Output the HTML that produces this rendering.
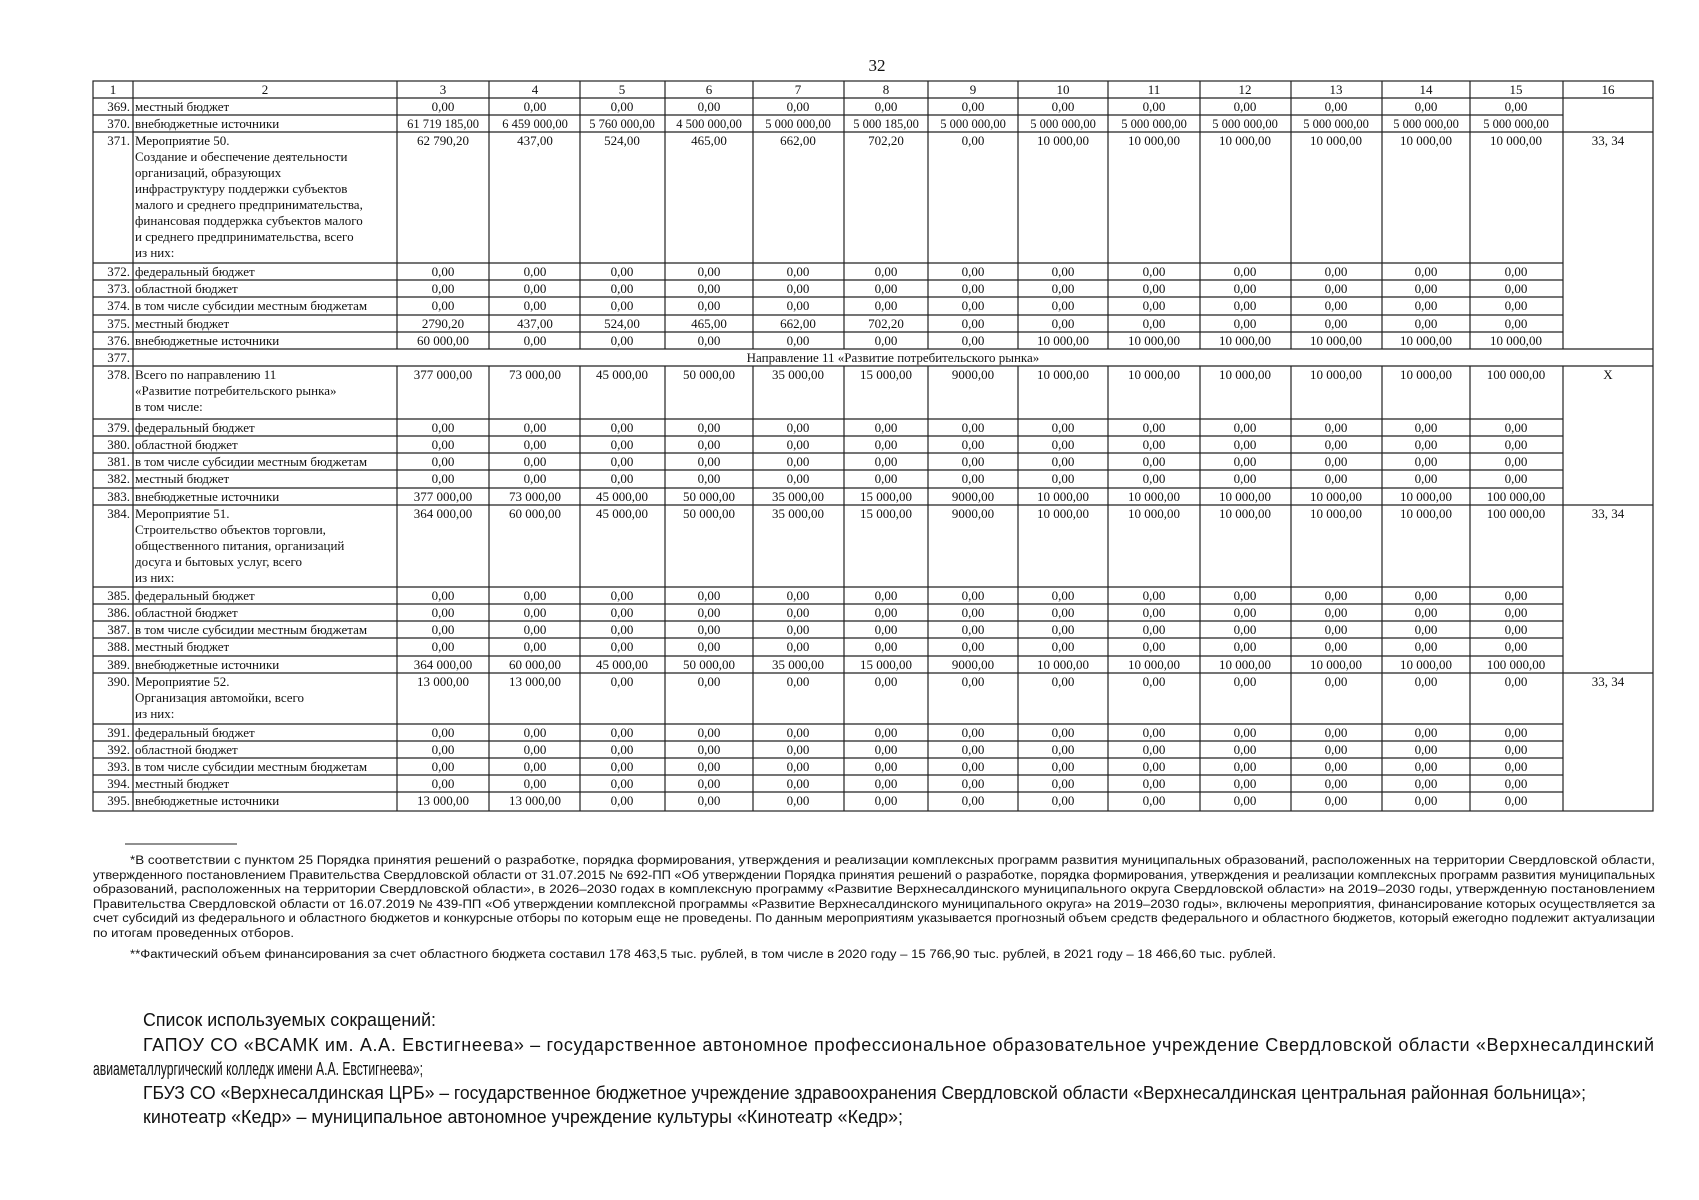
<!DOCTYPE html>
<html><head><meta charset="utf-8"><style>
html,body{margin:0;padding:0;background:#fff;}
svg{display:block}
.t{font-family:"Liberation Serif","DejaVu Serif",serif;font-size:13px;fill:#111}
.c{text-anchor:middle}
.r{text-anchor:end}
.f{font-family:"Liberation Sans","DejaVu Sans",sans-serif;font-size:11.5px;fill:#111}
.b{font-family:"Liberation Sans","DejaVu Sans",sans-serif;font-size:18px;fill:#111}
</style></head><body>
<svg width="1699" height="1200" viewBox="0 0 1699 1200" xmlns="http://www.w3.org/2000/svg">
<text x="877" y="71" class="t c" style="font-size:17px">32</text>
<g stroke="#222" stroke-width="1.2" fill="none">
<rect x="93" y="81" width="1560" height="730"/>
<line x1="133" y1="81" x2="133" y2="811"/>
<path d="M397 81V349M489 81V349M580 81V349M665 81V349M753 81V349M844 81V349M928 81V349M1018 81V349M1108 81V349M1200 81V349M1291 81V349M1382 81V349M1470 81V349M1563 81V349"/>
<path d="M397 366V811M489 366V811M580 366V811M665 366V811M753 366V811M844 366V811M928 366V811M1018 366V811M1108 366V811M1200 366V811M1291 366V811M1382 366V811M1470 366V811M1563 366V811"/>
<path d="M93 98H1653M93 132H1653M93 349H1653M93 366H1653M93 505H1653M93 673H1653"/>
<path d="M93 115H1563M93 263H1563M93 280H1563M93 297H1563M93 315H1563M93 332H1563M93 419H1563M93 436H1563M93 453H1563M93 470H1563M93 488H1563M93 587H1563M93 604H1563M93 621H1563M93 638H1563M93 656H1563M93 724H1563M93 741H1563M93 758H1563M93 775H1563M93 792H1563"/>
<line x1="125" y1="844" x2="237" y2="844" stroke-width="1"/>
</g>
<g class="t">
<text y="94" class="c"><tspan x="113">1</tspan><tspan x="265">2</tspan><tspan x="443">3</tspan><tspan x="535">4</tspan><tspan x="622">5</tspan><tspan x="709">6</tspan><tspan x="798">7</tspan><tspan x="886">8</tspan><tspan x="973">9</tspan><tspan x="1063">10</tspan><tspan x="1154">11</tspan><tspan x="1245">12</tspan><tspan x="1336">13</tspan><tspan x="1426">14</tspan><tspan x="1516">15</tspan><tspan x="1608">16</tspan></text>

<text class="r"><tspan x="130" y="111">369.</tspan><tspan x="130" y="128">370.</tspan><tspan x="130" y="145">371.</tspan><tspan x="130" y="276">372.</tspan><tspan x="130" y="293">373.</tspan><tspan x="130" y="310">374.</tspan><tspan x="130" y="328">375.</tspan><tspan x="130" y="345">376.</tspan><tspan x="130" y="362">377.</tspan><tspan x="130" y="379">378.</tspan><tspan x="130" y="432">379.</tspan><tspan x="130" y="449">380.</tspan><tspan x="130" y="466">381.</tspan><tspan x="130" y="483">382.</tspan><tspan x="130" y="501">383.</tspan><tspan x="130" y="518">384.</tspan><tspan x="130" y="600">385.</tspan><tspan x="130" y="617">386.</tspan><tspan x="130" y="634">387.</tspan><tspan x="130" y="651">388.</tspan><tspan x="130" y="669">389.</tspan><tspan x="130" y="686">390.</tspan><tspan x="130" y="737">391.</tspan><tspan x="130" y="754">392.</tspan><tspan x="130" y="771">393.</tspan><tspan x="130" y="788">394.</tspan><tspan x="130" y="805">395.</tspan></text>

<text><tspan x="135" y="111">местный бюджет</tspan><tspan x="135" y="128">внебюджетные источники</tspan>
<tspan x="135" y="145">Мероприятие 50.</tspan><tspan x="135" y="161">Создание и обеспечение деятельности</tspan><tspan x="135" y="177">организаций, образующих</tspan><tspan x="135" y="193">инфраструктуру поддержки субъектов</tspan><tspan x="135" y="209">малого и среднего предпринимательства,</tspan><tspan x="135" y="225">финансовая поддержка субъектов малого</tspan><tspan x="135" y="241">и среднего предпринимательства, всего</tspan><tspan x="135" y="257">из них:</tspan>
<tspan x="135" y="276">федеральный бюджет</tspan><tspan x="135" y="293">областной бюджет</tspan><tspan x="135" y="310">в том числе субсидии местным бюджетам</tspan><tspan x="135" y="328">местный бюджет</tspan><tspan x="135" y="345">внебюджетные источники</tspan>
<tspan x="135" y="379">Всего по направлению 11</tspan><tspan x="135" y="395">«Развитие потребительского рынка»</tspan><tspan x="135" y="411">в том числе:</tspan>
<tspan x="135" y="432">федеральный бюджет</tspan><tspan x="135" y="449">областной бюджет</tspan><tspan x="135" y="466">в том числе субсидии местным бюджетам</tspan><tspan x="135" y="483">местный бюджет</tspan><tspan x="135" y="501">внебюджетные источники</tspan>
<tspan x="135" y="518">Мероприятие 51.</tspan><tspan x="135" y="534">Строительство объектов торговли,</tspan><tspan x="135" y="550">общественного питания, организаций</tspan><tspan x="135" y="566">досуга и бытовых услуг, всего</tspan><tspan x="135" y="582">из них:</tspan>
<tspan x="135" y="600">федеральный бюджет</tspan><tspan x="135" y="617">областной бюджет</tspan><tspan x="135" y="634">в том числе субсидии местным бюджетам</tspan><tspan x="135" y="651">местный бюджет</tspan><tspan x="135" y="669">внебюджетные источники</tspan>
<tspan x="135" y="686">Мероприятие 52.</tspan><tspan x="135" y="702">Организация автомойки, всего</tspan><tspan x="135" y="718">из них:</tspan>
<tspan x="135" y="737">федеральный бюджет</tspan><tspan x="135" y="754">областной бюджет</tspan><tspan x="135" y="771">в том числе субсидии местным бюджетам</tspan><tspan x="135" y="788">местный бюджет</tspan><tspan x="135" y="805">внебюджетные источники</tspan></text>

<text x="893" y="362" class="c">Направление 11 «Развитие потребительского рынка»</text>

<g class="c">
<text y="111"><tspan x="443">0,00</tspan><tspan x="535">0,00</tspan><tspan x="622">0,00</tspan><tspan x="709">0,00</tspan><tspan x="798">0,00</tspan><tspan x="886">0,00</tspan><tspan x="973">0,00</tspan><tspan x="1063">0,00</tspan><tspan x="1154">0,00</tspan><tspan x="1245">0,00</tspan><tspan x="1336">0,00</tspan><tspan x="1426">0,00</tspan><tspan x="1516">0,00</tspan></text>
<text y="128" style="font-size:12.5px"><tspan x="443">61 719 185,00</tspan><tspan x="535">6 459 000,00</tspan><tspan x="622">5 760 000,00</tspan><tspan x="709">4 500 000,00</tspan><tspan x="798">5 000 000,00</tspan><tspan x="886">5 000 185,00</tspan><tspan x="973">5 000 000,00</tspan><tspan x="1063">5 000 000,00</tspan><tspan x="1154">5 000 000,00</tspan><tspan x="1245">5 000 000,00</tspan><tspan x="1336">5 000 000,00</tspan><tspan x="1426">5 000 000,00</tspan><tspan x="1516">5 000 000,00</tspan></text>
<text y="145"><tspan x="443">62 790,20</tspan><tspan x="535">437,00</tspan><tspan x="622">524,00</tspan><tspan x="709">465,00</tspan><tspan x="798">662,00</tspan><tspan x="886">702,20</tspan><tspan x="973">0,00</tspan><tspan x="1063">10 000,00</tspan><tspan x="1154">10 000,00</tspan><tspan x="1245">10 000,00</tspan><tspan x="1336">10 000,00</tspan><tspan x="1426">10 000,00</tspan><tspan x="1516">10 000,00</tspan><tspan x="1608">33, 34</tspan></text>
<text y="276"><tspan x="443">0,00</tspan><tspan x="535">0,00</tspan><tspan x="622">0,00</tspan><tspan x="709">0,00</tspan><tspan x="798">0,00</tspan><tspan x="886">0,00</tspan><tspan x="973">0,00</tspan><tspan x="1063">0,00</tspan><tspan x="1154">0,00</tspan><tspan x="1245">0,00</tspan><tspan x="1336">0,00</tspan><tspan x="1426">0,00</tspan><tspan x="1516">0,00</tspan></text>
<text y="293"><tspan x="443">0,00</tspan><tspan x="535">0,00</tspan><tspan x="622">0,00</tspan><tspan x="709">0,00</tspan><tspan x="798">0,00</tspan><tspan x="886">0,00</tspan><tspan x="973">0,00</tspan><tspan x="1063">0,00</tspan><tspan x="1154">0,00</tspan><tspan x="1245">0,00</tspan><tspan x="1336">0,00</tspan><tspan x="1426">0,00</tspan><tspan x="1516">0,00</tspan></text>
<text y="310"><tspan x="443">0,00</tspan><tspan x="535">0,00</tspan><tspan x="622">0,00</tspan><tspan x="709">0,00</tspan><tspan x="798">0,00</tspan><tspan x="886">0,00</tspan><tspan x="973">0,00</tspan><tspan x="1063">0,00</tspan><tspan x="1154">0,00</tspan><tspan x="1245">0,00</tspan><tspan x="1336">0,00</tspan><tspan x="1426">0,00</tspan><tspan x="1516">0,00</tspan></text>
<text y="328"><tspan x="443">2790,20</tspan><tspan x="535">437,00</tspan><tspan x="622">524,00</tspan><tspan x="709">465,00</tspan><tspan x="798">662,00</tspan><tspan x="886">702,20</tspan><tspan x="973">0,00</tspan><tspan x="1063">0,00</tspan><tspan x="1154">0,00</tspan><tspan x="1245">0,00</tspan><tspan x="1336">0,00</tspan><tspan x="1426">0,00</tspan><tspan x="1516">0,00</tspan></text>
<text y="345"><tspan x="443">60 000,00</tspan><tspan x="535">0,00</tspan><tspan x="622">0,00</tspan><tspan x="709">0,00</tspan><tspan x="798">0,00</tspan><tspan x="886">0,00</tspan><tspan x="973">0,00</tspan><tspan x="1063">10 000,00</tspan><tspan x="1154">10 000,00</tspan><tspan x="1245">10 000,00</tspan><tspan x="1336">10 000,00</tspan><tspan x="1426">10 000,00</tspan><tspan x="1516">10 000,00</tspan></text>

<text y="379"><tspan x="443">377 000,00</tspan><tspan x="535">73 000,00</tspan><tspan x="622">45 000,00</tspan><tspan x="709">50 000,00</tspan><tspan x="798">35 000,00</tspan><tspan x="886">15 000,00</tspan><tspan x="973">9000,00</tspan><tspan x="1063">10 000,00</tspan><tspan x="1154">10 000,00</tspan><tspan x="1245">10 000,00</tspan><tspan x="1336">10 000,00</tspan><tspan x="1426">10 000,00</tspan><tspan x="1516">100 000,00</tspan><tspan x="1608">X</tspan></text>
<text y="432"><tspan x="443">0,00</tspan><tspan x="535">0,00</tspan><tspan x="622">0,00</tspan><tspan x="709">0,00</tspan><tspan x="798">0,00</tspan><tspan x="886">0,00</tspan><tspan x="973">0,00</tspan><tspan x="1063">0,00</tspan><tspan x="1154">0,00</tspan><tspan x="1245">0,00</tspan><tspan x="1336">0,00</tspan><tspan x="1426">0,00</tspan><tspan x="1516">0,00</tspan></text>
<text y="449"><tspan x="443">0,00</tspan><tspan x="535">0,00</tspan><tspan x="622">0,00</tspan><tspan x="709">0,00</tspan><tspan x="798">0,00</tspan><tspan x="886">0,00</tspan><tspan x="973">0,00</tspan><tspan x="1063">0,00</tspan><tspan x="1154">0,00</tspan><tspan x="1245">0,00</tspan><tspan x="1336">0,00</tspan><tspan x="1426">0,00</tspan><tspan x="1516">0,00</tspan></text>
<text y="466"><tspan x="443">0,00</tspan><tspan x="535">0,00</tspan><tspan x="622">0,00</tspan><tspan x="709">0,00</tspan><tspan x="798">0,00</tspan><tspan x="886">0,00</tspan><tspan x="973">0,00</tspan><tspan x="1063">0,00</tspan><tspan x="1154">0,00</tspan><tspan x="1245">0,00</tspan><tspan x="1336">0,00</tspan><tspan x="1426">0,00</tspan><tspan x="1516">0,00</tspan></text>
<text y="483"><tspan x="443">0,00</tspan><tspan x="535">0,00</tspan><tspan x="622">0,00</tspan><tspan x="709">0,00</tspan><tspan x="798">0,00</tspan><tspan x="886">0,00</tspan><tspan x="973">0,00</tspan><tspan x="1063">0,00</tspan><tspan x="1154">0,00</tspan><tspan x="1245">0,00</tspan><tspan x="1336">0,00</tspan><tspan x="1426">0,00</tspan><tspan x="1516">0,00</tspan></text>
<text y="501"><tspan x="443">377 000,00</tspan><tspan x="535">73 000,00</tspan><tspan x="622">45 000,00</tspan><tspan x="709">50 000,00</tspan><tspan x="798">35 000,00</tspan><tspan x="886">15 000,00</tspan><tspan x="973">9000,00</tspan><tspan x="1063">10 000,00</tspan><tspan x="1154">10 000,00</tspan><tspan x="1245">10 000,00</tspan><tspan x="1336">10 000,00</tspan><tspan x="1426">10 000,00</tspan><tspan x="1516">100 000,00</tspan></text>

<text y="518"><tspan x="443">364 000,00</tspan><tspan x="535">60 000,00</tspan><tspan x="622">45 000,00</tspan><tspan x="709">50 000,00</tspan><tspan x="798">35 000,00</tspan><tspan x="886">15 000,00</tspan><tspan x="973">9000,00</tspan><tspan x="1063">10 000,00</tspan><tspan x="1154">10 000,00</tspan><tspan x="1245">10 000,00</tspan><tspan x="1336">10 000,00</tspan><tspan x="1426">10 000,00</tspan><tspan x="1516">100 000,00</tspan><tspan x="1608">33, 34</tspan></text>
<text y="600"><tspan x="443">0,00</tspan><tspan x="535">0,00</tspan><tspan x="622">0,00</tspan><tspan x="709">0,00</tspan><tspan x="798">0,00</tspan><tspan x="886">0,00</tspan><tspan x="973">0,00</tspan><tspan x="1063">0,00</tspan><tspan x="1154">0,00</tspan><tspan x="1245">0,00</tspan><tspan x="1336">0,00</tspan><tspan x="1426">0,00</tspan><tspan x="1516">0,00</tspan></text>
<text y="617"><tspan x="443">0,00</tspan><tspan x="535">0,00</tspan><tspan x="622">0,00</tspan><tspan x="709">0,00</tspan><tspan x="798">0,00</tspan><tspan x="886">0,00</tspan><tspan x="973">0,00</tspan><tspan x="1063">0,00</tspan><tspan x="1154">0,00</tspan><tspan x="1245">0,00</tspan><tspan x="1336">0,00</tspan><tspan x="1426">0,00</tspan><tspan x="1516">0,00</tspan></text>
<text y="634"><tspan x="443">0,00</tspan><tspan x="535">0,00</tspan><tspan x="622">0,00</tspan><tspan x="709">0,00</tspan><tspan x="798">0,00</tspan><tspan x="886">0,00</tspan><tspan x="973">0,00</tspan><tspan x="1063">0,00</tspan><tspan x="1154">0,00</tspan><tspan x="1245">0,00</tspan><tspan x="1336">0,00</tspan><tspan x="1426">0,00</tspan><tspan x="1516">0,00</tspan></text>
<text y="651"><tspan x="443">0,00</tspan><tspan x="535">0,00</tspan><tspan x="622">0,00</tspan><tspan x="709">0,00</tspan><tspan x="798">0,00</tspan><tspan x="886">0,00</tspan><tspan x="973">0,00</tspan><tspan x="1063">0,00</tspan><tspan x="1154">0,00</tspan><tspan x="1245">0,00</tspan><tspan x="1336">0,00</tspan><tspan x="1426">0,00</tspan><tspan x="1516">0,00</tspan></text>
<text y="669"><tspan x="443">364 000,00</tspan><tspan x="535">60 000,00</tspan><tspan x="622">45 000,00</tspan><tspan x="709">50 000,00</tspan><tspan x="798">35 000,00</tspan><tspan x="886">15 000,00</tspan><tspan x="973">9000,00</tspan><tspan x="1063">10 000,00</tspan><tspan x="1154">10 000,00</tspan><tspan x="1245">10 000,00</tspan><tspan x="1336">10 000,00</tspan><tspan x="1426">10 000,00</tspan><tspan x="1516">100 000,00</tspan></text>

<text y="686"><tspan x="443">13 000,00</tspan><tspan x="535">13 000,00</tspan><tspan x="622">0,00</tspan><tspan x="709">0,00</tspan><tspan x="798">0,00</tspan><tspan x="886">0,00</tspan><tspan x="973">0,00</tspan><tspan x="1063">0,00</tspan><tspan x="1154">0,00</tspan><tspan x="1245">0,00</tspan><tspan x="1336">0,00</tspan><tspan x="1426">0,00</tspan><tspan x="1516">0,00</tspan><tspan x="1608">33, 34</tspan></text>
<text y="737"><tspan x="443">0,00</tspan><tspan x="535">0,00</tspan><tspan x="622">0,00</tspan><tspan x="709">0,00</tspan><tspan x="798">0,00</tspan><tspan x="886">0,00</tspan><tspan x="973">0,00</tspan><tspan x="1063">0,00</tspan><tspan x="1154">0,00</tspan><tspan x="1245">0,00</tspan><tspan x="1336">0,00</tspan><tspan x="1426">0,00</tspan><tspan x="1516">0,00</tspan></text>
<text y="754"><tspan x="443">0,00</tspan><tspan x="535">0,00</tspan><tspan x="622">0,00</tspan><tspan x="709">0,00</tspan><tspan x="798">0,00</tspan><tspan x="886">0,00</tspan><tspan x="973">0,00</tspan><tspan x="1063">0,00</tspan><tspan x="1154">0,00</tspan><tspan x="1245">0,00</tspan><tspan x="1336">0,00</tspan><tspan x="1426">0,00</tspan><tspan x="1516">0,00</tspan></text>
<text y="771"><tspan x="443">0,00</tspan><tspan x="535">0,00</tspan><tspan x="622">0,00</tspan><tspan x="709">0,00</tspan><tspan x="798">0,00</tspan><tspan x="886">0,00</tspan><tspan x="973">0,00</tspan><tspan x="1063">0,00</tspan><tspan x="1154">0,00</tspan><tspan x="1245">0,00</tspan><tspan x="1336">0,00</tspan><tspan x="1426">0,00</tspan><tspan x="1516">0,00</tspan></text>
<text y="788"><tspan x="443">0,00</tspan><tspan x="535">0,00</tspan><tspan x="622">0,00</tspan><tspan x="709">0,00</tspan><tspan x="798">0,00</tspan><tspan x="886">0,00</tspan><tspan x="973">0,00</tspan><tspan x="1063">0,00</tspan><tspan x="1154">0,00</tspan><tspan x="1245">0,00</tspan><tspan x="1336">0,00</tspan><tspan x="1426">0,00</tspan><tspan x="1516">0,00</tspan></text>
<text y="805"><tspan x="443">13 000,00</tspan><tspan x="535">13 000,00</tspan><tspan x="622">0,00</tspan><tspan x="709">0,00</tspan><tspan x="798">0,00</tspan><tspan x="886">0,00</tspan><tspan x="973">0,00</tspan><tspan x="1063">0,00</tspan><tspan x="1154">0,00</tspan><tspan x="1245">0,00</tspan><tspan x="1336">0,00</tspan><tspan x="1426">0,00</tspan><tspan x="1516">0,00</tspan></text>
</g>
</g>

<g class="f">
<text x="130" y="864" textLength="1525" lengthAdjust="spacingAndGlyphs">*В соответствии с пунктом 25 Порядка принятия решений о разработке, порядка формирования, утверждения и реализации комплексных программ развития муниципальных образований, расположенных на территории Свердловской области,</text>
<text x="93" y="879" textLength="1562" lengthAdjust="spacingAndGlyphs">утвержденного постановлением Правительства Свердловской области от 31.07.2015 № 692-ПП «Об утверждении Порядка принятия решений о разработке, порядка формирования, утверждения и реализации комплексных программ развития муниципальных</text>
<text x="93" y="893" textLength="1562" lengthAdjust="spacingAndGlyphs">образований, расположенных на территории Свердловской области», в 2026–2030 годах в комплексную программу «Развитие Верхнесалдинского муниципального округа Свердловской области» на 2019–2030 годы, утвержденную постановлением</text>
<text x="93" y="908" textLength="1562" lengthAdjust="spacingAndGlyphs">Правительства Свердловской области от 16.07.2019 № 439-ПП «Об утверждении комплексной программы «Развитие Верхнесалдинского муниципального округа» на 2019–2030 годы», включены мероприятия, финансирование которых осуществляется за</text>
<text x="93" y="922" textLength="1562" lengthAdjust="spacingAndGlyphs">счет субсидий из федерального и областного бюджетов и конкурсные отборы по которым еще не проведены. По данным мероприятиям указывается прогнозный объем средств федерального и областного бюджетов, который ежегодно подлежит актуализации</text>
<text x="93" y="937" textLength="201" lengthAdjust="spacingAndGlyphs">по итогам проведенных отборов.</text>
<text x="130" y="958" textLength="1146" lengthAdjust="spacingAndGlyphs">**Фактический объем финансирования за счет областного бюджета составил 178 463,5 тыс. рублей, в том числе в 2020 году – 15 766,90 тыс. рублей, в 2021 году – 18 466,60 тыс. рублей.</text>
</g>

<g class="b">
<text x="143" y="1026" textLength="293" lengthAdjust="spacingAndGlyphs">Список используемых сокращений:</text>
<text x="143" y="1051" textLength="1511" lengthAdjust="spacing">ГАПОУ СО «ВСАМК им. А.А. Евстигнеева» – государственное автономное профессиональное образовательное учреждение Свердловской области «Верхнесалдинский</text>
<text x="93" y="1075" textLength="330" lengthAdjust="spacingAndGlyphs">авиаметаллургический колледж имени А.А. Евстигнеева»;</text>
<text x="143" y="1099" textLength="1443" lengthAdjust="spacingAndGlyphs">ГБУЗ СО «Верхнесалдинская ЦРБ» – государственное бюджетное учреждение здравоохранения Свердловской области «Верхнесалдинская центральная районная больница»;</text>
<text x="143" y="1123" textLength="760" lengthAdjust="spacingAndGlyphs">кинотеатр «Кедр» – муниципальное автономное учреждение культуры «Кинотеатр «Кедр»;</text>
</g>
</svg>
</body></html>
